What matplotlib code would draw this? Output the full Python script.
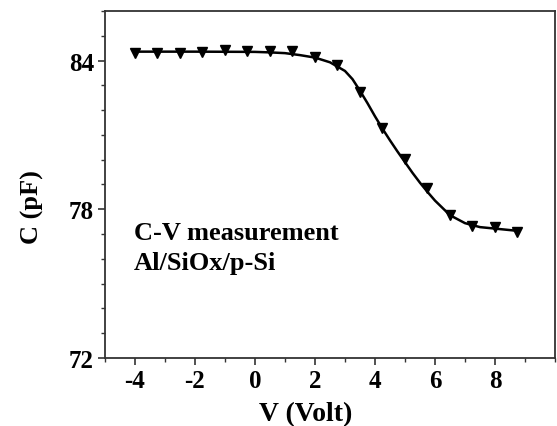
import matplotlib.pyplot as plt
from matplotlib.ticker import MultipleLocator

# measured points (triangles)
v_meas = [-4, -3.25, -2.5, -1.75, -1, -0.25, 0.5, 1.25, 2, 2.75, 3.5, 4.25,
          5, 5.75, 6.5, 7.25, 8, 8.75]
c_meas = [84.31, 84.31, 84.31, 84.35, 84.42, 84.38, 84.38, 84.38, 84.15, 83.84,
          82.72, 81.29, 80.01, 78.87, 77.76, 77.33, 77.29, 77.10]

# fitted curve
v_fit = [-4, -2, 0, 0.5, 1, 1.5, 2, 2.5, 3, 3.25, 3.5, 3.75, 4, 4.25, 4.5, 4.75,
         5, 5.25, 5.5, 5.75, 6, 6.5, 7, 7.5, 8, 8.75]
c_fit = [84.36, 84.36, 84.35, 84.33, 84.30, 84.22, 84.12, 83.93, 83.58, 83.25,
         82.78, 82.28, 81.75, 81.25, 80.78, 80.33, 79.90, 79.47, 79.07, 78.70,
         78.35, 77.76, 77.44, 77.28, 77.22, 77.13]

plt.rcParams['font.family'] = 'Liberation Serif'
plt.rcParams['font.weight'] = 'bold'
plt.rcParams['axes.unicode_minus'] = False

fig = plt.figure(figsize=(5.57, 4.27), dpi=100)
ax = fig.add_axes([0.1885, 0.1593, 0.8079, 0.8126])

ax.plot(v_fit, c_fit, color='black', lw=1.8, zorder=2)
ax.plot(v_meas, c_meas, 'v', color='black', ms=6.5, zorder=3)

ax.set_xlim(-5, 10)
ax.set_ylim(72, 86)
ax.set_xticks([-4, -2, 0, 2, 4, 6, 8])
ax.set_yticks([72, 78, 84])
ax.xaxis.set_minor_locator(MultipleLocator(1))
ax.yaxis.set_minor_locator(MultipleLocator(1))
ax.tick_params(which='major', direction='out', length=5, width=1.2,
               color='#333333', labelsize=18, pad=3)
ax.tick_params(which='minor', direction='out', length=3, width=1.0,
               color='#333333')
for s in ax.spines.values():
    s.set_color('#333333')
    s.set_linewidth(1.3)

ax.set_xlabel('V (Volt)', fontsize=20, fontweight='bold')
ax.set_ylabel('C (pF)', fontsize=19, fontweight='bold')
ax.xaxis.set_label_coords(0.447, -0.125)
ax.yaxis.set_label_coords(-0.135, 0.438)

ax.text(-4.03, 77.07, 'C-V measurement', fontsize=19, fontweight='bold',
        ha='left', va='center')
ax.text(-4.03, 75.87, 'Al/SiOx/p-Si', fontsize=19, fontweight='bold',
        ha='left', va='center')

plt.savefig('out.png', dpi=100)
